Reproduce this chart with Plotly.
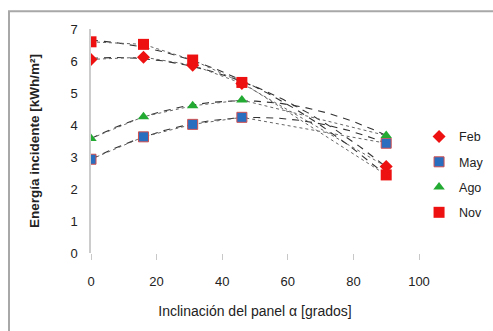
import numpy as np
import plotly.graph_objects as go

angles = [0, 16, 31, 46, 90]
feb = [6.05, 6.12, 5.87, 5.30, 2.70]
may = [2.93, 3.63, 4.02, 4.24, 3.43]
ago = [3.58, 4.26, 4.60, 4.78, 3.67]
nov = [6.60, 6.52, 6.03, 5.33, 2.44]

series = [
    ("Feb", feb, dict(symbol="diamond", size=10, color="#EE1111", line=dict(width=0))),
    ("May", may, dict(symbol="square", size=10, color="#2A6EC0", line=dict(width=1, color="#D05050"))),
    ("Ago", ago, dict(symbol="triangle-up", size=10, color="#22AA33", line=dict(width=0))),
    ("Nov", nov, dict(symbol="square", size=11, color="#EE1111", line=dict(width=0))),
]

fig = go.Figure()
xs = np.linspace(0, 90, 200)
for name, vals, mk in series:
    c = np.polyfit(angles, vals, 2)
    fig.add_trace(go.Scatter(x=xs, y=np.polyval(c, xs), mode="lines",
                             line=dict(color="#333333", width=1.1, dash="7px,6px"),
                             showlegend=False, hoverinfo="skip"))
    fig.add_trace(go.Scatter(x=angles, y=vals, mode="lines",
                             line=dict(color="#666666", width=1, dash="dot"),
                             showlegend=False, hoverinfo="skip"))
for name, vals, mk in series:
    fig.add_trace(go.Scatter(x=angles, y=vals, mode="markers", name=name,
                             marker=mk, legendgroup=name))

fig.update_layout(
    width=493, height=331,
    margin=dict(l=91, r=74, t=29, b=78, autoexpand=False),
    paper_bgcolor="white", plot_bgcolor="white",
    font=dict(family="Liberation Sans, Arial, sans-serif", color="#222222", size=13),
    legend=dict(xref="container", yref="container", x=0.85, y=0.473,
                xanchor="left", yanchor="middle",
                traceorder="grouped", tracegroupgap=6, itemwidth=30,
                font=dict(size=12.5), bgcolor="rgba(0,0,0,0)"),
    showlegend=True,
    shapes=[dict(type="rect", xref="paper", yref="paper", x0=-0.25, x1=1.3, y0=-0.4, y1=1.079,
                 line=dict(color="#A8A8A8", width=2), layer="above")],
)
fig.update_xaxes(range=[0, 100], tickvals=[0, 20, 40, 60, 80, 100], showgrid=False, zeroline=False,
                 showline=False, ticks="outside", ticklen=6, tickcolor="#C8C8C8", tickwidth=1,
                 ticklabelstandoff=10, automargin=False,
                 title=dict(text="Inclinación del panel α [grados]", font=dict(size=14), standoff=18))
fig.update_yaxes(range=[0, 7], tickvals=list(range(8)), showgrid=False, zeroline=False,
                 showline=True, linecolor="#CCCCCC", linewidth=1.5, ticks="",
                 ticklabelstandoff=9, automargin=False,
                 title=dict(text="<b>Energía incidente [kWh/m²]</b>", font=dict(size=13.5), standoff=28))

fig.write_html("out.html", config={"displayModeBar": False},
               post_script="document.body.style.margin='0';document.body.style.padding='0';")
